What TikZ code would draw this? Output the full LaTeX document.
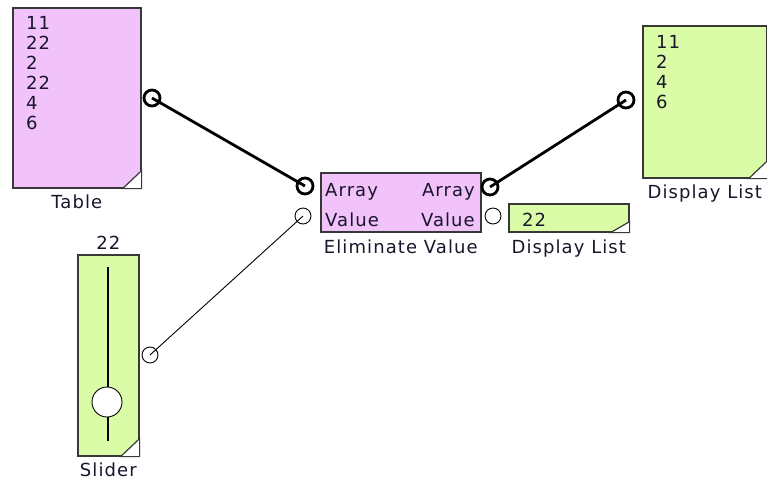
\documentclass[tikz,border=0pt]{standalone}
\usepackage{fontspec}
\setmainfont{DejaVu Sans}[LetterSpace=6]
\usetikzlibrary{positioning,calc}
\definecolor{blockpink}{HTML}{F2C2FA}
\definecolor{blockgreen}{HTML}{DAFCA6}
\definecolor{blockedge}{HTML}{383838}
\definecolor{ink}{HTML}{18162A}

\begin{document}
\begin{tikzpicture}[x=1pt, y=-1pt,
      blk/.style={draw=blockedge, line width=1.6pt, inner sep=0pt, anchor=north west},
      pinkblk/.style={blk, fill=blockpink},
      greenblk/.style={blk, fill=blockgreen},
      txt/.style={inner sep=0pt, text=ink, font=\fontsize{18}{20}\selectfont},
      lst/.style={txt, align=left, anchor=north west},
      lbl/.style={txt, anchor=base},
      port/.style={circle, draw=black, fill=white, inner sep=0pt, minimum size=16pt},
      portA/.style={port, line width=2.8pt},
      portB/.style={port, line width=0.9pt},
      wireA/.style={line width=2.8pt},
      wireB/.style={line width=0.9pt},
    ]
    \useasboundingbox (0,0) rectangle (767,480);

    \node[pinkblk, minimum width=128pt, minimum height=180pt] (tab) at (12,7) {};
    \node[lst] (tabtxt) at (26,16) {11\\22\\2\\22\\4\\6};
    \node[lbl] (tablbl) at ([yshift=-20pt]tab.south) {Table};

    \node[pinkblk, minimum width=160pt, minimum height=59pt] (elim) at (320,172) {};
    \node[txt, anchor=base west] (elimAl) at (325,196) {Array};
    \node[txt, anchor=base west] (elimVl) at (325,226) {Value};
    \node[txt, anchor=base east] (elimAr) at (475,196) {Array};
    \node[txt, anchor=base east] (elimVr) at (475,226) {Value};
    \node[lbl] (elimlbl) at ([yshift=-21pt]elim.south) {Eliminate Value};

    \node[greenblk, minimum width=120pt, minimum height=28pt] (dlsm) at (508,203) {};
    \node[txt, anchor=base west] (dlsmtxt) at (522,226) {22};
    \node[lbl] (dlsmlbl) at ([yshift=-21pt]dlsm.south) {Display List};

    \node[greenblk, minimum width=124pt, minimum height=152pt] (dlbig) at (642,25) {};
    \node[lst] (dlbigtxt) at (656,35) {11\\2\\4\\6};
    \node[lbl] (dlbiglbl) at ([yshift=-20pt]dlbig.south) {Display List};

    \node[greenblk, minimum width=61pt, minimum height=201pt] (sld) at (77,254) {};
    \node[lbl] (sldval) at ([yshift=5pt]sld.north) {22};
    \node[lbl] (sldlbl) at ([yshift=-20pt]sld.south) {Slider};
    \coordinate (trktop) at (108,267);
    \coordinate (trkbot) at (108,441);
    \draw[line width=1.6pt] (trktop) -- (trkbot);
    \node[circle, draw=black, fill=white, inner sep=0pt, minimum size=30pt, line width=0.9pt] (knob) at (107,402) {};

    \foreach \bx/\ht in {tab/18, dlbig/18, sld/18, dlsm/11}
      \filldraw[fill=white, draw=blockedge, line width=1.2pt] (\bx.south east) -- ++(-19,0) -- ++(19,-\ht) -- cycle;

    \node[portA] (tabout) at (152,98) {};
    \node[portA] (elimAi) at (305,186) {};
    \node[portB] (elimVi) at (303,216) {};
    \node[portA] (elimAo) at (490,187) {};
    \node[portB] (elimVo) at (493,216) {};
    \node[portA] (dlin) at (626,100) {};
    \node[portB] (sldout) at (150,355) {};

    \draw[wireA] (tabout.center) -- (elimAi.center);
    \draw[wireA] (elimAo.center) -- (dlin.center);
    \draw[wireB] (sldout.center) -- (elimVi.center);
  \end{tikzpicture}
\end{document}
